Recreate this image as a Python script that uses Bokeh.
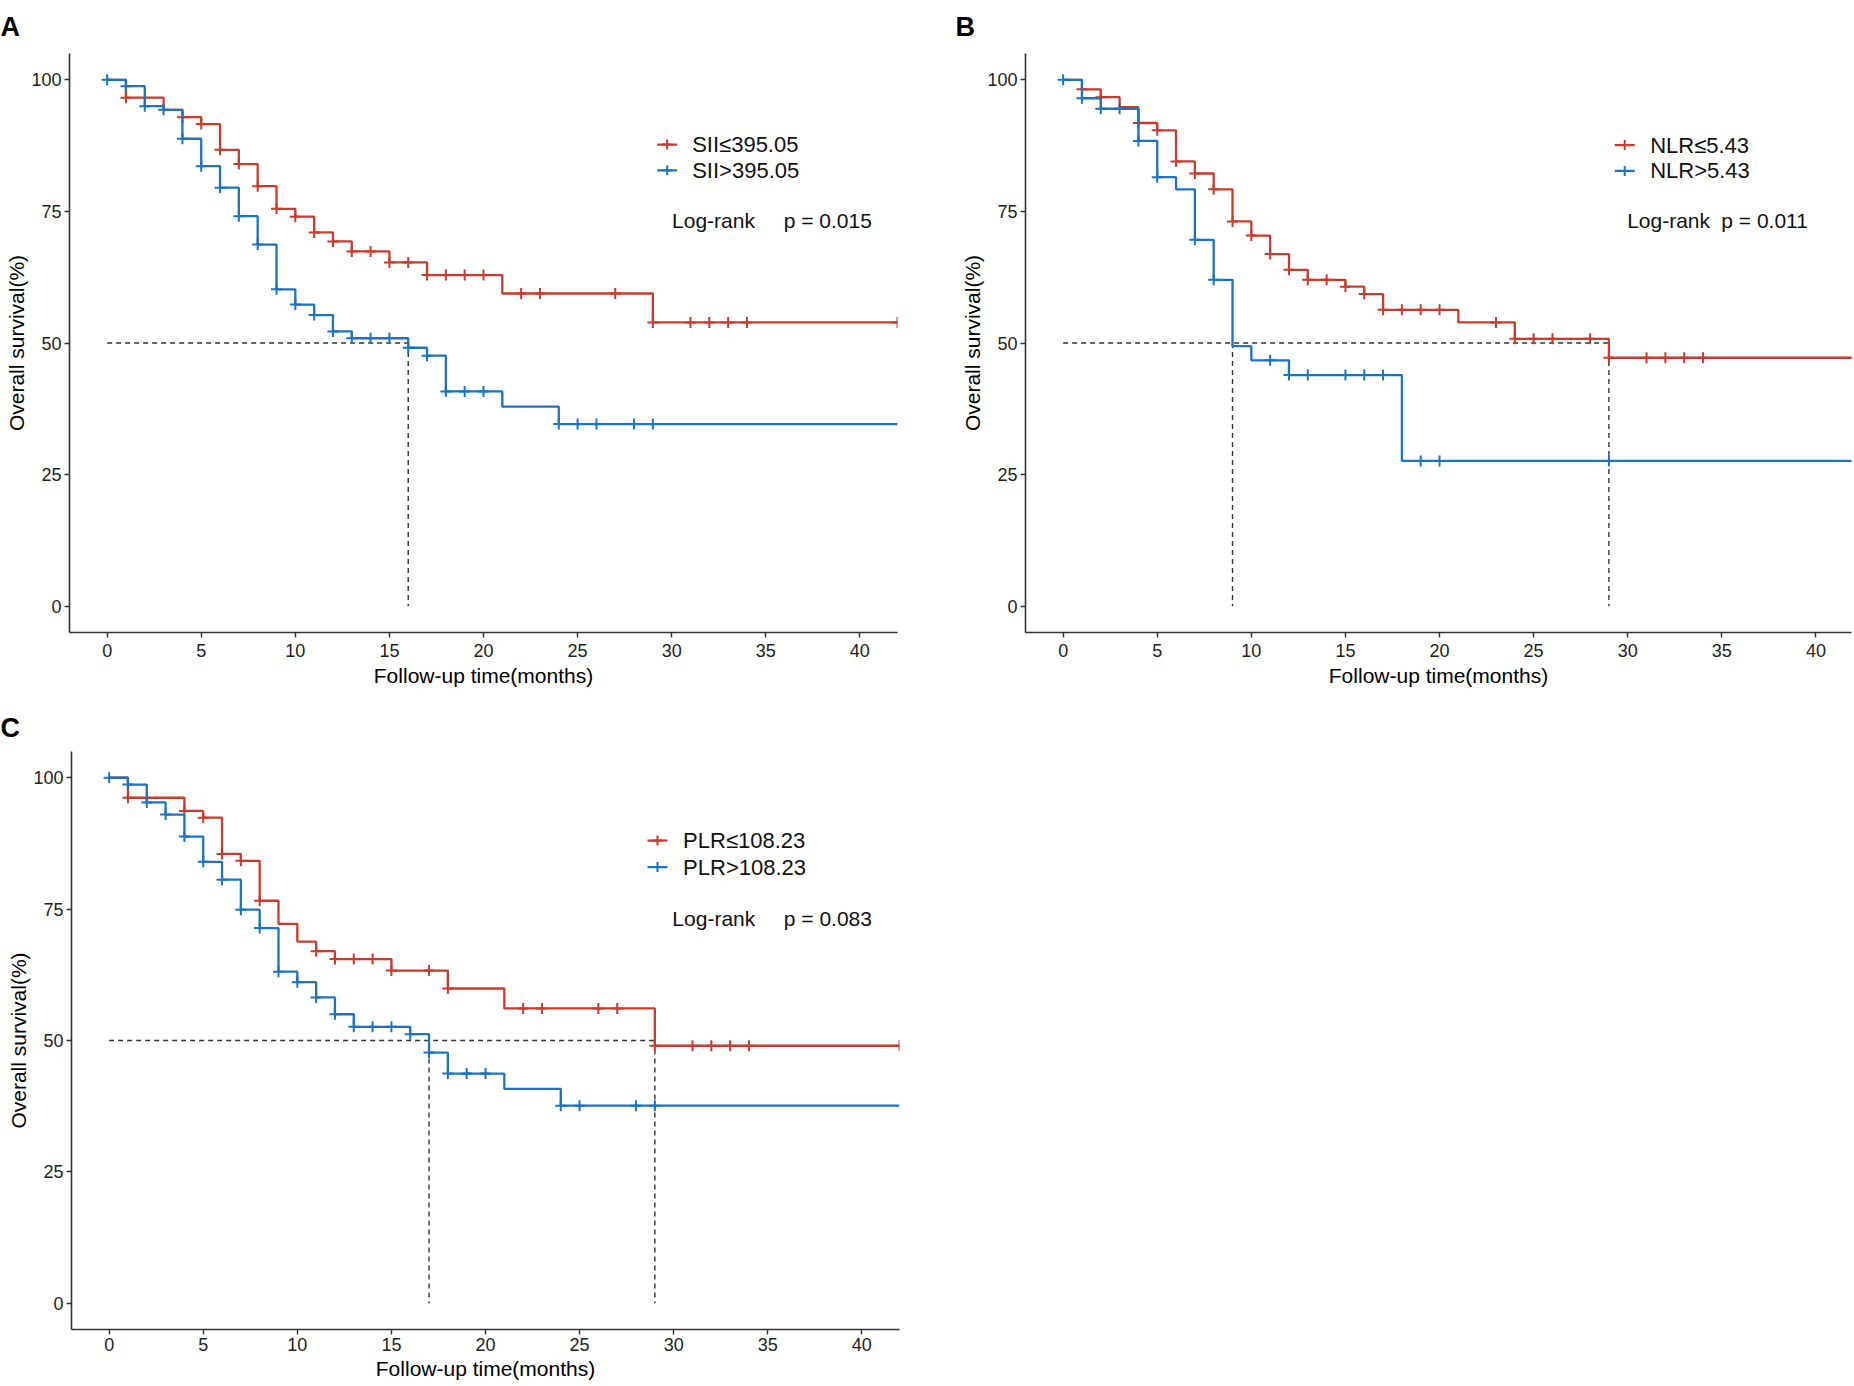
import numpy as np
from bokeh.plotting import figure
from bokeh.layouts import column, row
from bokeh.models import Range1d, FixedTicker
from bokeh.core.properties import value
from bokeh.embed import file_html
from bokeh.resources import INLINE

# ---------------- data ----------------
x_ticks = [0, 5, 10, 15, 20, 25, 30, 35, 40]
y_ticks = [0, 25, 50, 75, 100]
end_time = 42

# Panel A: SII
a_low_label = "SII≤395.05"
a_high_label = "SII>395.05"
a_low_times = [1, 3, 4, 5, 6, 7, 8, 9, 10, 11, 12, 13, 15, 17, 21, 29]
a_low_surv = [96.6, 94.3, 92.9, 91.6, 86.7, 84.0, 79.8, 75.5, 74.0, 71.0, 69.3, 67.4, 65.3, 62.9, 59.4, 53.9]
a_low_cens = [1, 4, 5, 6, 7, 8, 9, 10, 11, 12, 13, 14, 15, 16, 17, 18, 19, 20, 22, 23, 27, 29, 31, 32, 33, 34, 42]
a_high_times = [1, 2, 3, 4, 5, 6, 7, 8, 9, 10, 11, 12, 13, 16, 17, 18, 21, 24]
a_high_surv = [98.8, 95.0, 94.3, 88.8, 83.6, 79.5, 74.1, 68.7, 60.2, 57.3, 55.3, 52.2, 50.9, 49.1, 47.6, 40.8, 37.9, 34.6]
a_high_cens = [0, 1, 2, 3, 4, 5, 6, 7, 8, 9, 10, 11, 12, 13, 14, 15, 16, 17, 18, 19, 20, 24, 25, 26, 28, 29]
a_medians = [16]
a_pvalue = "p = 0.015"

# Panel B: NLR
b_low_label = "NLR≤5.43"
b_high_label = "NLR>5.43"
b_low_times = [1, 2, 3, 4, 5, 6, 7, 8, 9, 10, 11, 12, 13, 15, 16, 17, 21, 24, 29]
b_low_surv = [98.2, 96.7, 94.8, 91.8, 90.4, 84.5, 82.2, 79.2, 73.1, 70.4, 66.9, 63.9, 62.0, 60.7, 59.3, 56.3, 53.9, 50.8, 47.2]
b_low_cens = [1, 2, 4, 5, 6, 7, 8, 9, 10, 11, 12, 13, 14, 15, 16, 17, 18, 19, 20, 23, 24, 25, 26, 28, 29, 31, 32, 33, 34, 42]
b_high_times = [1, 2, 4, 5, 6, 7, 8, 9, 10, 12, 18]
b_high_surv = [96.5, 94.5, 88.4, 81.5, 79.2, 69.6, 62.0, 49.4, 46.7, 43.9, 27.6]
b_high_cens = [0, 1, 2, 3, 4, 5, 7, 8, 11, 12, 13, 15, 16, 17, 19, 20, 29]
b_medians = [9, 29]
b_pvalue = "p = 0.011"

# Panel C: PLR
c_low_label = "PLR≤108.23"
c_high_label = "PLR>108.23"
c_low_times = [1, 4, 5, 6, 7, 8, 9, 10, 11, 12, 15, 18, 21, 29]
c_low_surv = [96.2, 93.7, 92.4, 85.5, 84.2, 76.6, 72.2, 68.8, 67.0, 65.5, 63.3, 59.9, 56.1, 49.0]
c_low_cens = [1, 4, 5, 6, 7, 8, 11, 12, 13, 14, 15, 17, 18, 22, 23, 26, 27, 29, 31, 32, 33, 34, 42]
c_high_times = [1, 2, 3, 4, 5, 6, 7, 8, 9, 10, 11, 12, 13, 16, 17, 18, 21, 24]
c_high_surv = [98.7, 95.3, 93.0, 88.8, 84.0, 80.6, 74.9, 71.4, 63.1, 61.1, 58.2, 55.0, 52.6, 51.2, 47.7, 43.7, 40.8, 37.6]
c_high_cens = [0, 1, 2, 3, 4, 5, 6, 7, 8, 9, 10, 11, 12, 13, 14, 15, 16, 17, 18, 19, 20, 24, 25, 28, 29]
c_medians = [17, 29]
c_pvalue = "p = 0.083"

# ---------------- styling ----------------
RED = "#CC3A2B"
BLUE = "#1B73C2"
AX = "#333333"
FONT = "Liberation Sans"


def level_at(times, surv, t):
    lv = np.concatenate([[100.0], np.asarray(surv, float)])
    idx = np.searchsorted(np.asarray(times, float), np.asarray(t, float), side="right")
    return lv[idx]


def panel(letter, low, high, medians, pvalue, labels, legend_pos,
          width, height, mb_left, mb_right, mb_top, mb_bottom, x_end,
          title_offset, title_standoff, tick_standoff=6, label_standoff=4):
    p = figure(width=width, height=height, x_range=Range1d(-2, x_end),
               y_range=Range1d(-5, 105), output_backend="svg",
               toolbar_location=None, min_border_left=mb_left,
               min_border_right=mb_right, min_border_top=mb_top,
               min_border_bottom=mb_bottom)
    p.title.text = letter
    p.title.text_font = FONT
    p.title.text_font_size = "27px"
    p.title.text_font_style = "bold"
    p.title.text_color = "#000000"
    p.title.align = "left"
    p.title.vertical_align = "top"
    p.title.offset = title_offset
    p.title.standoff = title_standoff
    p.xgrid.visible = False
    p.ygrid.visible = False
    p.outline_line_color = None
    p.background_fill_color = "white"
    p.border_fill_color = "white"

    for ax in (p.xaxis[0], p.yaxis[0]):
        ax.axis_line_color = AX
        ax.axis_line_width = 1.6
        ax.major_tick_line_color = AX
        ax.major_tick_line_width = 1.4
        ax.major_tick_in = 0
        ax.major_tick_out = 5
        ax.minor_tick_line_color = None
        ax.major_label_text_font = FONT
        ax.major_label_text_font_size = "18px"
        ax.major_label_text_color = "#222222"
        ax.axis_label_text_font = FONT
        ax.axis_label_text_font_size = "21px"
        ax.axis_label_text_font_style = "normal"
        ax.axis_label_text_color = "#000000"
    p.xaxis[0].ticker = FixedTicker(ticks=x_ticks)
    p.yaxis[0].ticker = FixedTicker(ticks=y_ticks)
    p.xaxis[0].axis_label = "Follow-up time(months)"
    p.yaxis[0].axis_label = "Overall survival(%)"
    p.xaxis[0].major_label_standoff = tick_standoff
    p.xaxis[0].axis_label_standoff = label_standoff
    p.yaxis[0].major_label_standoff = 3
    p.yaxis[0].axis_label_standoff = 0

    # median reference lines
    mmax = max(medians)
    p.segment(x0=[0], x1=[mmax], y0=[50], y1=[50], line_color=AX,
              line_width=1.4, line_dash="5 4")
    p.segment(x0=medians, x1=medians, y0=[50] * len(medians),
              y1=[0] * len(medians), line_color=AX, line_width=1.4,
              line_dash="5 4")

    for (times, surv, cens), col in ((low, RED), (high, BLUE)):
        xs = [0] + list(times) + [end_time]
        ys = [100.0] + list(surv) + [surv[-1]]
        p.step(xs, ys, mode="after", line_color=col, line_width=2.3)
        p.scatter(cens, level_at(times, surv, cens), marker="cross",
                  size=11, line_color=col, line_width=2.0)

    # legend + log-rank annotation
    kx, ty, ry, by, lx, px, ly = legend_pos
    for yy, col, lab_text in ((ry, RED, labels[0]), (by, BLUE, labels[1])):
        p.segment(x0=[kx - 0.53], x1=[kx + 0.53], y0=[yy], y1=[yy],
                  line_color=col, line_width=2.3)
        p.scatter([kx], [yy], marker="cross", size=10, line_color=col,
                  line_width=2.0)
        p.text(x=[ty], y=[yy], text=[lab_text], text_font=value(FONT),
               text_font_size="22px", text_baseline="middle",
               text_align="left", text_color="#111111")
    p.text(x=[lx, px], y=[ly, ly], text=["Log-rank", pvalue],
           text_font=value(FONT), text_font_size="21px",
           text_baseline="middle", text_align="left", text_color="#111111")
    return p


pA = panel("A", (a_low_times, a_low_surv, a_low_cens),
           (a_high_times, a_high_surv, a_high_cens), a_medians, a_pvalue,
           (a_low_label, a_high_label),
           (29.76, 31.09, 87.7, 82.8, 30.02, 35.95, 73.3),
           width=948, height=705, mb_left=69, mb_right=51, mb_top=53,
           mb_bottom=73, x_end=42, title_offset=-69, title_standoff=20)
pB = panel("B", (b_low_times, b_low_surv, b_low_cens),
           (b_high_times, b_high_surv, b_high_cens), b_medians, b_pvalue,
           (b_low_label, b_high_label),
           (29.84, 31.19, 87.6, 82.7, 29.97, 34.97, 73.2),
           width=904, height=705, mb_left=77, mb_right=1, mb_top=53,
           mb_bottom=73, x_end=41.89, title_offset=-70, title_standoff=20)
pC = panel("C", (c_low_times, c_low_surv, c_low_cens),
           (c_high_times, c_high_surv, c_high_cens), c_medians, c_pvalue,
           (c_low_label, c_high_label),
           (29.14, 30.5, 88.05, 83.0, 29.93, 35.85, 73.3),
           width=950, height=677, mb_left=71, mb_right=51, mb_top=46,
           mb_bottom=52, x_end=42, title_offset=-71, title_standoff=13,
           tick_standoff=3, label_standoff=3)

layout = column(row(pA, pB), pC)
open("out.html", "w").write(file_html(layout, INLINE))
